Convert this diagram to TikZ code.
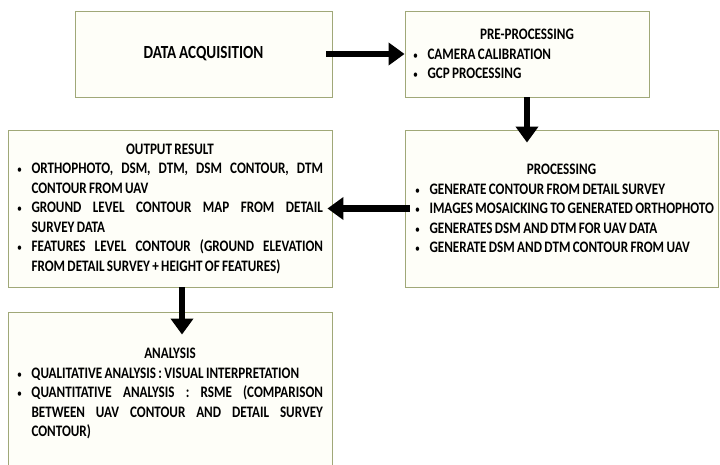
\documentclass[tikz,border=0pt]{standalone}
\usepackage{fontspec}
\setmainfont{Carlito}[FakeStretch=0.82,WordSpace=0.8]
\usetikzlibrary{arrows.meta}
\definecolor{boxline}{RGB}{160,168,120}
\definecolor{boxfill}{RGB}{254,254,248}
\newlength\bind
\setlength\bind{14.5pt}
\newcommand\bitem[1]{\par\noindent\spaceskip=0pt\xspaceskip=0pt\hangindent=\bind\hangafter=1\makebox[\bind][l]{\mdseries\fontsize{12}{12}\selectfont\textbullet}#1\par}
\newcommand\bhead[1]{{\centering #1\par}}
\tikzset{
  box/.style={draw=boxline, fill=boxfill, line width=0.9pt, rectangle, inner ysep=0pt,
    font=\fontsize{16}{19.5}\selectfont\bfseries},
  bigarrow/.style={line width=6.5pt, -{Triangle[length=16pt,width=22pt]}},
}
\begin{document}
\begin{tikzpicture}[x=1pt,y=-1pt]
\fill[white] (0,0) rectangle (720,465);
\useasboundingbox (0,0) rectangle (720,465);

\node[box, minimum width=257pt, minimum height=86pt, font=\fontsize{18.5}{22}\selectfont\bfseries]
  (da) at (203.5,54) {DATA ACQUISITION};

\node[box, minimum width=244pt, minimum height=86pt, inner xsep=8pt, text width=228pt, align=left]
  (pp) at (527,54) {\bhead{PRE-PROCESSING}%
  \bitem{CAMERA CALIBRATION}%
  \bitem{GCP PROCESSING}};

\node[box, minimum width=313pt, minimum height=157pt, inner xsep=10pt, text width=293pt, align=left]
  (proc) at (561.5,208.5) {\bhead{PROCESSING}%
  \bitem{GENERATE CONTOUR FROM DETAIL SURVEY}%
  \bitem{\mbox{IMAGES MOSAICKING TO GENERATED ORTHOPHOTO}}%
  \bitem{GENERATES DSM AND DTM FOR UAV DATA}%
  \bitem{GENERATE DSM AND DTM CONTOUR FROM UAV}};

\node[box, minimum width=324pt, minimum height=157pt, inner xsep=9pt, text width=306pt, align=justify]
  (out) at (170,208.5) {\bhead{OUTPUT RESULT}%
  \bitem{ORTHOPHOTO, DSM, DTM, DSM CONTOUR, DTM\linebreak CONTOUR FROM UAV}%
  \bitem{GROUND LEVEL CONTOUR MAP FROM DETAIL\linebreak SURVEY DATA}%
  \bitem{FEATURES LEVEL CONTOUR (GROUND ELEVATION\linebreak FROM DETAIL SURVEY + HEIGHT OF FEATURES)}};

\node[box, minimum width=324pt, minimum height=163pt, inner xsep=9pt, text width=306pt, align=justify]
  (ana) at (170,393.5) {\bhead{ANALYSIS}%
  \bitem{QUALITATIVE ANALYSIS : VISUAL INTERPRETATION}%
  \bitem{QUANTITATIVE ANALYSIS : RSME (COMPARISON\linebreak BETWEEN UAV CONTOUR AND DETAIL SURVEY\linebreak CONTOUR)}};

\draw[bigarrow, shorten <=-6pt] (da.east) -- (pp.west);
\draw[bigarrow, shorten >=-13pt] (pp.south) -- (pp.south |- proc.north);
\draw[bigarrow, shorten <=-5pt, shorten >=-5pt] (proc.west) -- (out.east);
\draw[bigarrow, shorten >=-23pt] ([xshift=12pt]out.south) -- ([xshift=12pt]out.south |- ana.north);
\end{tikzpicture}
\end{document}
